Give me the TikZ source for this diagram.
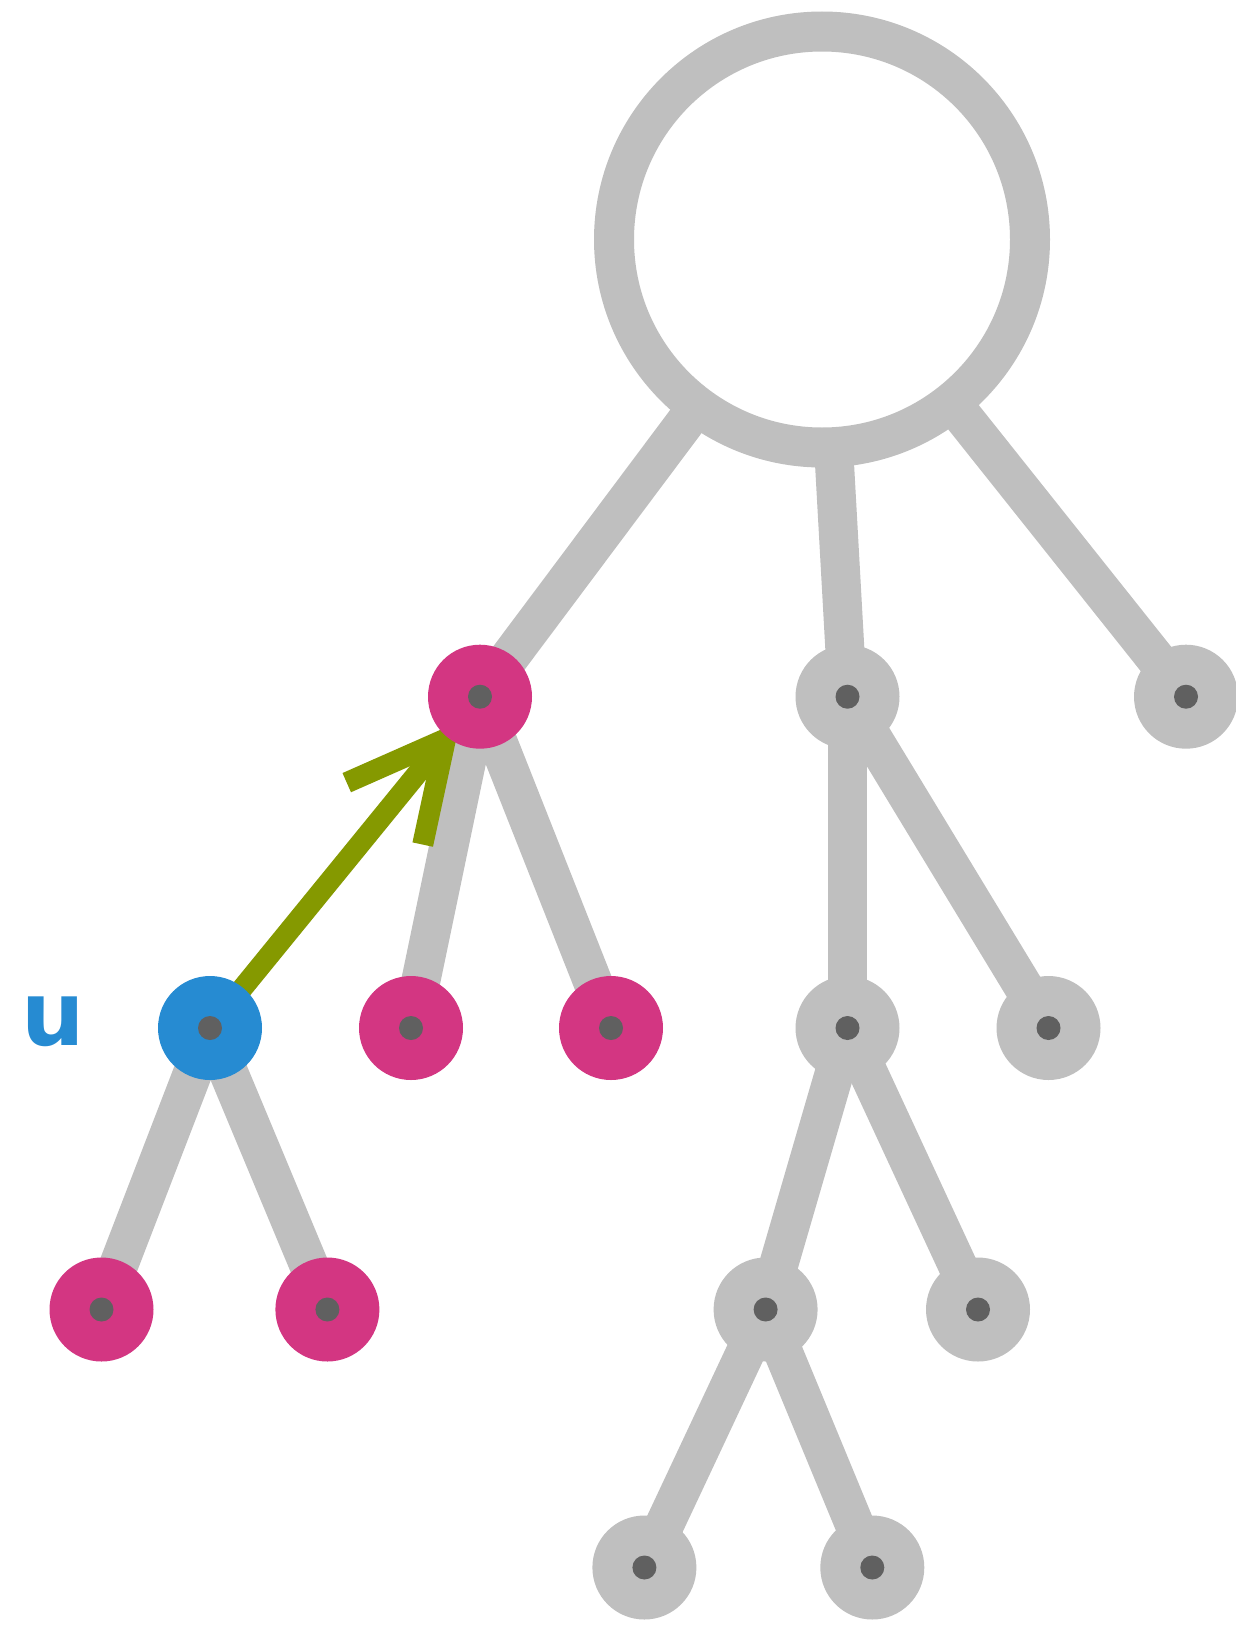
\documentclass[tikz,border=0pt]{standalone}
\usepackage{fontspec}
\newfontfamily\labfont{DejaVu Sans}
\usetikzlibrary{calc}
\definecolor{edgegray}{HTML}{BFBFBF}
\definecolor{dotgray}{HTML}{606060}
\definecolor{smag}{HTML}{D33682}
\definecolor{sblue}{HTML}{268BD2}
\definecolor{sgreen}{HTML}{859900}
\tikzset{
  vtx/.style={circle, inner sep=0pt, minimum size=104pt, fill=#1,
    path picture={\fill[dotgray] (path picture bounding box.center) circle (12pt);}},
  edge/.style={draw=edgegray, line width=39pt},
  rootnode/.style={circle, inner sep=0pt, minimum size=416pt, draw=edgegray, line width=40pt, fill=white},
  pointer/.style={draw=sgreen, line width=21pt},
}
\begin{document}
\begin{tikzpicture}[x=1pt,y=-1pt]
\useasboundingbox (0,0) rectangle (1235,1625);
\coordinate (root) at (822,239.5);
\coordinate (A) at (480,696.7);
\coordinate (B) at (847.5,696.7);
\coordinate (C) at (1186,696.7);
\coordinate (u) at (210,1028);
\coordinate (D) at (411,1028);
\coordinate (E) at (611,1028);
\coordinate (F) at (847.5,1028);
\coordinate (G) at (1048.5,1028);
\coordinate (H) at (101.5,1309.5);
\coordinate (I) at (327.4,1309.5);
\coordinate (J) at (765.6,1309.5);
\coordinate (K) at (978,1309.5);
\coordinate (L) at (644.4,1567.5);
\coordinate (M) at (872.3,1567.5);
% edges
\draw[edge] (root) -- (A);
\draw[edge] (root) -- (B);
\draw[edge] (root) -- (C);
\draw[edge] (A) -- (D);
\draw[edge] (A) -- (E);
\draw[edge] (B) -- (F);
\draw[edge] (B) -- (G);
\draw[edge] (F) -- (J);
\draw[edge] (F) -- (K);
\draw[edge] (J) -- (L);
\draw[edge] (J) -- (M);
\draw[edge] (u) -- (H);
\draw[edge] (u) -- (I);
% green pointer arrow from u to A
\coordinate (tip) at ($(u)!372.8pt!(A)$);
\draw[pointer] (u) -- (tip);
\draw[pointer, line join=round] ($(u)!280.9pt!10.05:(A)$) -- (tip) -- ($(u)!280.9pt!-10.05:(A)$);
% root
\node[rootnode] (rootn) at (root) {};
% vertices
\node[vtx=smag] (nA) at (A) {};
\node[vtx=edgegray] (nB) at (B) {};
\node[vtx=edgegray] (nC) at (C) {};
\node[vtx=sblue] (nu) at (u) {};
\node[vtx=smag] (nD) at (D) {};
\node[vtx=smag] (nE) at (E) {};
\node[vtx=edgegray] (nF) at (F) {};
\node[vtx=edgegray] (nG) at (G) {};
\node[vtx=smag] (nH) at (H) {};
\node[vtx=smag] (nI) at (I) {};
\node[vtx=edgegray] (nJ) at (J) {};
\node[vtx=edgegray] (nK) at (K) {};
\node[vtx=edgegray] (nL) at (L) {};
\node[vtx=edgegray] (nM) at (M) {};
% label
\node[inner sep=0pt, text=sblue, font=\labfont\bfseries\fontsize{89}{89}\selectfont] (ulab) at (53,1021.5) {u};
\end{tikzpicture}
\end{document}
